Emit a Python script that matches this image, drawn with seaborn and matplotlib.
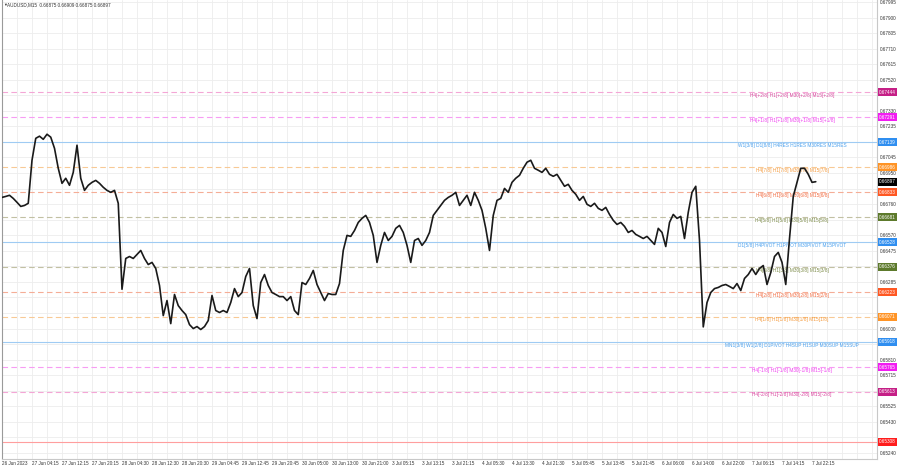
import matplotlib
matplotlib.use("Agg")
import matplotlib.pyplot as plt
import seaborn as sns

# chart header
symbol_title = "AUDUSD,M15  0.66875 0.66909 0.66875 0.66897"
last_price = 0.66897

# closes, one value every 4 bars (M15)
closes = [
    0.66801, 0.66807, 0.66814, 0.66795, 0.66771, 0.66746, 0.66752, 0.66765,
    0.67028, 0.67162, 0.67175, 0.67156, 0.67187, 0.67169, 0.67101, 0.66979,
    0.66887, 0.66918, 0.66875, 0.66954, 0.67120, 0.66918, 0.66844, 0.66875,
    0.66893, 0.66905, 0.66887, 0.66863, 0.66844, 0.66832, 0.66844, 0.66765,
    0.66240, 0.66428, 0.66440, 0.66428, 0.66453, 0.66477, 0.66428, 0.66391,
    0.66404, 0.66367, 0.66263, 0.66079, 0.66171, 0.66030, 0.66208, 0.66140,
    0.66110, 0.66085, 0.66024, 0.66000, 0.66012, 0.65994, 0.66012, 0.66049,
    0.66202, 0.66110, 0.66098, 0.66110, 0.66098, 0.66159, 0.66244, 0.66195,
    0.66220, 0.66318, 0.66367, 0.66140, 0.66061, 0.66281, 0.66330, 0.66263,
    0.66220, 0.66208, 0.66195, 0.66195, 0.66171, 0.66195, 0.66110, 0.66085,
    0.66281, 0.66269, 0.66306, 0.66355, 0.66269, 0.66220, 0.66171, 0.66214,
    0.66208, 0.66208, 0.66275, 0.66477, 0.66569, 0.66563, 0.66599, 0.66648,
    0.66673, 0.66691, 0.66648, 0.66569, 0.66404, 0.66508, 0.66587, 0.66538,
    0.66563, 0.66612, 0.66630, 0.66587, 0.66508, 0.66404, 0.66538, 0.66550,
    0.66508, 0.66538, 0.66587, 0.66691, 0.66722, 0.66752, 0.66783, 0.66801,
    0.66814, 0.66832, 0.66752, 0.66783, 0.66814, 0.66752, 0.66832, 0.66783,
    0.66722, 0.66612, 0.66477, 0.66691, 0.66783, 0.66795, 0.66856, 0.66832,
    0.66893, 0.66918, 0.66936, 0.66979, 0.67016, 0.67028, 0.66979, 0.66967,
    0.66954, 0.66979, 0.66942, 0.66930, 0.66942, 0.66905, 0.66869, 0.66881,
    0.66844, 0.66820, 0.66783, 0.66807, 0.66759, 0.66746, 0.66765, 0.66734,
    0.66722, 0.66740, 0.66697, 0.66661, 0.66636, 0.66648, 0.66624, 0.66587,
    0.66599, 0.66575, 0.66563, 0.66550, 0.66563, 0.66538, 0.66514, 0.66612,
    0.66587, 0.66501, 0.66648, 0.66697, 0.66673, 0.66685, 0.66550, 0.66710,
    0.66832, 0.66869, 0.66538, 0.66010, 0.66159, 0.66220, 0.66244, 0.66251,
    0.66263, 0.66269, 0.66257, 0.66244, 0.66275, 0.66232, 0.66306, 0.66330,
    0.66367, 0.66330, 0.66367, 0.66385, 0.66269, 0.66342, 0.66440, 0.66465,
    0.66404, 0.66269, 0.66550, 0.66807, 0.66893, 0.66979, 0.66979, 0.66942,
    0.66893, 0.66897,
]

time_labels = [
    "26 Jun 2023", "27 Jun 04:15", "27 Jun 12:15", "27 Jun 20:15",
    "28 Jun 04:30", "28 Jun 12:30", "28 Jun 20:30", "29 Jun 04:45",
    "29 Jun 12:45", "29 Jun 20:45", "30 Jun 05:00", "30 Jun 13:00",
    "30 Jun 21:00", "3 Jul 05:15", "3 Jul 13:15", "3 Jul 21:15",
    "4 Jul 05:30", "4 Jul 13:30", "4 Jul 21:30", "5 Jul 05:45",
    "5 Jul 13:45", "5 Jul 21:45", "6 Jul 06:00", "6 Jul 14:00",
    "6 Jul 22:00", "7 Jul 06:15", "7 Jul 14:15", "7 Jul 22:15",
]

price_ticks = [
    0.67995, 0.67900, 0.67805, 0.67710, 0.67615, 0.67520, 0.67425, 0.67330,
    0.67235, 0.67140, 0.67045, 0.66950, 0.66855, 0.66760, 0.66665, 0.66570,
    0.66475, 0.66380, 0.66285, 0.66190, 0.66095, 0.66000, 0.65905, 0.65810,
    0.65715, 0.65620, 0.65525, 0.65430, 0.65335, 0.65240,
]

# murrey math levels
level_prices = [0.67444, 0.67291, 0.67139, 0.66986, 0.66833, 0.66681, 0.66528,
                0.66376, 0.66223, 0.66071, 0.65918, 0.65765, 0.65613, 0.65308]
level_texts = [
    "H4[+2/8] H1[+2/8] M30[+2/8] M15[+2/8]",
    "H4[+1/8] H1[+1/8] M30[+1/8] M15[+1/8]",
    "W1[3/8] D1[8/8] H4RES H1RES M30RES M15RES",
    "H4[7/8] H1[7/8] M30[7/8] M15[7/8]",
    "H4[6/8] H1[6/8] M30[6/8] M15[6/8]",
    "H4[5/8] H1[5/8] M30[5/8] M15[5/8]",
    "D1[5/8] H4PIVOT H1PIVOT M30PIVOT M15PIVOT",
    "H4[3/8] H1[3/8] M30[3/8] M15[3/8]",
    "H4[2/8] H1[2/8] M30[2/8] M15[2/8]",
    "H4[1/8] H1[1/8] M30[1/8] M15[1/8]",
    "MN1[3/8] W1[2/8] D1PIVOT H4SUP H1SUP M30SUP M15SUP",
    "H4[-1/8] H1[-1/8] M30[-1/8] M15[-1/8]",
    "H4[-2/8] H1[-2/8] M30[-2/8] M15[-2/8]",
    "",
]
level_kinds = ["p2", "p1", "key", "o7", "o6", "g5", "key",
               "g5", "o6", "o7", "key", "p1", "p2", "red"]

# kind -> (line colour, dashed, box colour, text colour)
styles = {
    "p2": ("#f4a6d6", True, "#c51f86", "#d9479f"),
    "p1": ("#f79cf3", True, "#f21cf2", "#f040f0"),
    "key": ("#9fcbf3", False, "#2f8ef0", "#4aa0ee"),
    "o7": ("#f8c995", True, "#ff9426", "#f59a3c"),
    "o6": ("#f5ad96", True, "#ff5722", "#f36a3f"),
    "g5": ("#c2c0a3", True, "#5d7a2c", "#7d8c4a"),
    "red": ("#ff9e9e", False, "#ff1c1c", "#ff1c1c"),
}

sns.set_style("white")
plt.rcParams["font.family"] = ["Liberation Sans", "DejaVu Sans"]

fig = plt.figure(figsize=(9, 4.68), dpi=100)
ax = fig.add_axes([2 / 900, 9 / 468, 875 / 900, 1 - 9 / 468])

idx = list(range(len(closes)))

for price, text, kind in zip(level_prices, level_texts, level_kinds):
    lc, dashed, bc, tc = styles[kind]
    ax.axhline(price, color=lc, lw=0.8, ls=(0, (5, 3)) if dashed else "-", zorder=1)
    if text:
        ax.annotate(text, xy=(0.903, price), xycoords=("axes fraction", "data"),
                    xytext=(0, -2.2), textcoords="offset points",
                    ha="center", va="center", fontsize=3.4, color=tc, zorder=2)
    ax.annotate(f"{price:.5f}", xy=(1, price), xycoords=("axes fraction", "data"),
                xytext=(1.4, 0), textcoords="offset points", ha="left", va="center",
                fontsize=3.3, color="white", annotation_clip=False, zorder=5,
                bbox=dict(boxstyle="square,pad=0.3", fc=bc, ec="none"))

ax.annotate(f"{last_price:.5f}", xy=(1, last_price), xycoords=("axes fraction", "data"),
            xytext=(1.4, 0), textcoords="offset points", ha="left", va="center",
            fontsize=3.3, color="white", annotation_clip=False, zorder=5,
            bbox=dict(boxstyle="square,pad=0.3", fc="black", ec="none"))

sns.lineplot(x=idx, y=closes, ax=ax, color="#1a1a1a", linewidth=1.2, zorder=3)

ax.set_xlim(0, 233.33)
ax.set_ylim(0.65203, 0.68007)

# x ticks: grid every 4 samples, label every 8
grid_pos = list(range(0, 233, 4))
ax.set_xticks(grid_pos)
lbls = []
for k, p in enumerate(grid_pos):
    lbls.append(time_labels[k // 2] if k % 2 == 0 and k // 2 < len(time_labels) else "")
ax.set_xticklabels(lbls, ha="left", fontsize=3.3, color="#333333")
ax.tick_params(axis="x", length=0, pad=1.6)

# price scale labels that sit under a level box are hidden, as in the terminal
boxes = level_prices + [last_price]
ylbls = []
for p in price_ticks:
    hidden = min(abs(p - b) for b in boxes) < 0.00034
    ylbls.append("" if hidden else f"{p:.5f}")
ax.yaxis.tick_right()
ax.set_yticks(price_ticks)
ax.set_yticklabels(ylbls, fontsize=3.3, color="#333333")
ax.tick_params(axis="y", length=0, pad=2.3)

ax.grid(True, color="#ededed", lw=0.6)
ax.set_axisbelow(True)
ax.set_xlabel("")
ax.set_ylabel("")

ax.spines["top"].set_visible(False)
ax.spines["left"].set_color("#9a9a9a")
ax.spines["bottom"].set_color("#c8c8c8")
ax.spines["right"].set_color("#c8c8c8")
for s in ax.spines.values():
    s.set_linewidth(0.8)

fig.text(3 / 900, 1 - 5 / 468, "\u25bc", fontsize=2.8, color="#333333", va="center", ha="left")
fig.text(7 / 900, 1 - 5 / 468, symbol_title, fontsize=3.3, color="#333333", va="center", ha="left")

fig.savefig("out.png", dpi=100)
